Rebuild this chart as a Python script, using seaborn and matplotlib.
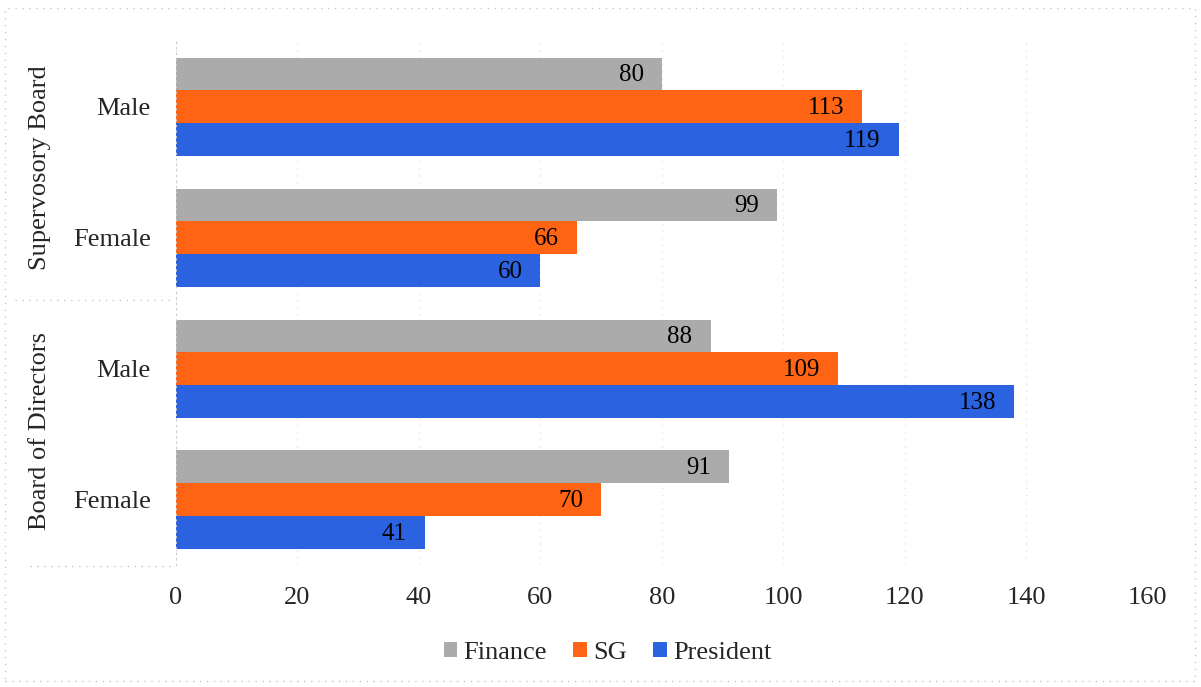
import matplotlib
matplotlib.use("Agg")
import matplotlib.pyplot as plt
from matplotlib.lines import Line2D
from matplotlib.patches import Rectangle
import seaborn as sns
import pandas as pd

# chart data
boards = ["Supervosory Board", "Supervosory Board", "Board of Directors", "Board of Directors"]
genders = ["Male", "Female", "Male", "Female"]
series = ["Finance", "SG", "President"]
finance = [80, 99, 88, 91]
sg = [113, 66, 109, 70]
president = [119, 60, 138, 41]
x_ticks = [0, 20, 40, 60, 80, 100, 120, 140, 160]

colors = {"Finance": "#ABABAB", "SG": "#FF6414", "President": "#2A62E0"}

sns.set_style("white")
plt.rcParams["font.family"] = ["Liberation Serif", "DejaVu Serif"]

rows = [f"{b} {g}" for b, g in zip(boards, genders)]
df = pd.DataFrame({
    "row": rows * 3,
    "Series": [s for s in series for _ in rows],
    "Value": finance + sg + president,
})

fig = plt.figure(figsize=(12.01, 6.87), dpi=100)
ax = fig.add_axes([0.1465, 0.1775, 0.8093, 0.7625])

sns.barplot(
    data=df, y="row", x="Value", hue="Series", hue_order=series,
    order=rows, palette=colors, width=0.75, orient="h", ax=ax,
    saturation=1, linewidth=0,
)

# value labels inside the bar ends
for cont in ax.containers:
    for bar in cont:
        w = bar.get_width()
        ax.annotate(f"{w:.0f}", (w, bar.get_y() + bar.get_height() / 2),
                    xytext=(-13, -1), textcoords="offset points",
                    ha="right", va="center", fontsize=18, color="black")

ax.set_xlim(0, 160)
ax.set_xticks(x_ticks)
ax.set_yticks(range(len(rows)))
ax.set_yticklabels(genders)
ax.tick_params(axis="x", labelsize=19, pad=16, length=0)
ax.tick_params(axis="y", labelsize=19, pad=18, length=0)
ax.set_xlabel("")
ax.set_ylabel("")
ax.xaxis.grid(True, linestyle=(0, (1, 4)), color="#E2E4EC", linewidth=1)
ax.set_axisbelow(True)
for s in ["top", "right", "bottom"]:
    ax.spines[s].set_visible(False)
ax.spines["left"].set_linestyle((0, (1, 4)))
ax.spines["left"].set_color("#C8C8C8")

# group labels on the left
for name, yc in [("Supervosory Board", 1 - 168 / 687), ("Board of Directors", 1 - 431 / 687)]:
    fig.text(40 / 1201, yc, name, rotation=90, ha="center", va="center", fontsize=19)

# dotted separators between groups
dot = dict(linestyle=(0, (1, 4)), color="#C8C8C8", linewidth=1)
fig.add_artist(Line2D([15 / 1201, 172 / 1201], [1 - 300 / 687] * 2, **dot))
fig.add_artist(Line2D([30 / 1201, 172 / 1201], [1 - 566 / 687] * 2, **dot))
fig.add_artist(Rectangle((5 / 1201, 6 / 687), 1190 / 1201, 673 / 687, fill=False,
                         transform=fig.transFigure, **dot))

handles, labels = ax.get_legend_handles_labels()
ax.get_legend().remove()
fig.legend(handles, labels, loc="center", bbox_to_anchor=(0.506, 0.05), ncol=3,
           frameon=False, fontsize=19, handlelength=0.5, handleheight=0.5,
           handletextpad=0.25, columnspacing=1.0)

fig.savefig("out.png", dpi=100)
